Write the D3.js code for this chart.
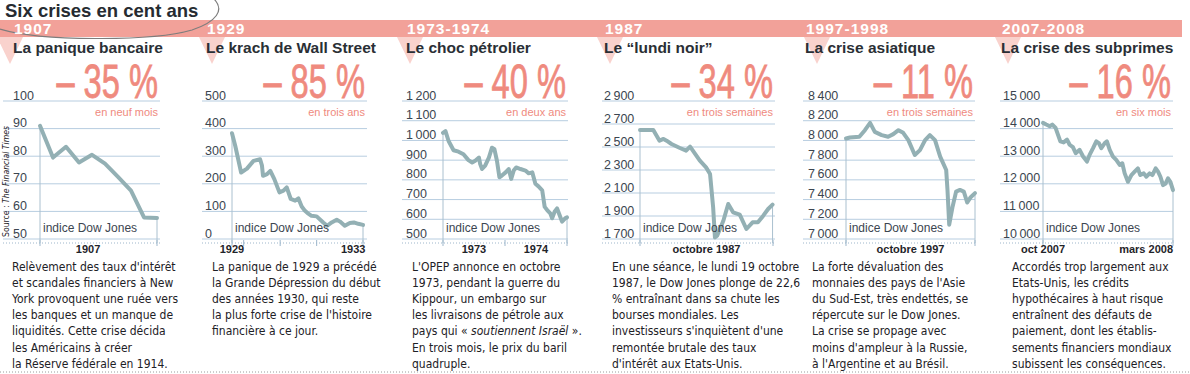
<!DOCTYPE html>
<html>
<head>
<meta charset="utf-8">
<script src="https://cdn.jsdelivr.net/npm/d3@7"></script>
<style>
  body { margin: 0; background: #fff; }
  svg text { font-family: "Liberation Sans", Arial, sans-serif; }
  .narrow { font-family: "DejaVu Sans Condensed", "Liberation Sans Narrow", "Arial Narrow", sans-serif; }
</style>
</head>
<body>
<svg id="chart" width="1190" height="374"></svg>
<script>
// ---- data ----
const titre = "Six crises en cent ans";
const annees = ["1907", "1929", "1973-1974", "1987", "1997-1998", "2007-2008"];
const noms = ["La panique bancaire", "Le krach de Wall Street", "Le choc pétrolier",
              "Le \u201clundi noir\u201d", "La crise asiatique", "La crise des subprimes"];
const baisses = ["\u2013 35 %", "\u2013 85 %", "\u2013 40 %", "\u2013 34 %", "\u2013 11 %", "\u2013 16 %"];
const durees = ["en neuf mois", "en trois ans", "en deux ans", "en trois semaines", "en trois semaines", "en six mois"];

// Dow Jones, 1907 (monthly, index of month)
const x1907 = [0, 1, 2, 3, 4, 5, 6, 7, 8, 9];
const dj1907 = [91, 79.5, 83.4, 77.7, 80.5, 77.3, 72.5, 67.5, 57.8, 57.6];

// Dow Jones, 1929-1933 (decimal years)
const x1929 = [1929.68, 1929.77, 1929.93, 1930.09, 1930.27, 1930.45, 1930.50, 1930.53, 1930.64, 1930.73,
               1930.84, 1930.98, 1931.09, 1931.18, 1931.29, 1931.41, 1931.50, 1931.59, 1931.68, 1931.75,
               1931.86, 1932.00, 1932.18, 1932.29, 1932.41, 1932.55, 1932.64, 1932.77, 1932.91, 1933.02,
               1933.14, 1933.27];
const dj1929 = [383, 337, 241, 255, 283, 289, 267, 229, 235, 247,
                217, 169, 175, 187, 145, 139, 147, 118, 102, 94,
                84, 82, 60, 48, 60, 70, 63, 48, 58, 60,
                55, 51];

// Dow Jones, 1973-1974 (decimal years)
const x1973 = [1973.00, 1973.04, 1973.09, 1973.17, 1973.25, 1973.33, 1973.41, 1973.47, 1973.52, 1973.58,
               1973.60, 1973.63, 1973.68, 1973.74, 1973.79, 1973.83, 1973.87, 1973.91, 1973.95, 1974.01,
               1974.06, 1974.10, 1974.14, 1974.18, 1974.25, 1974.33, 1974.38, 1974.44, 1974.49, 1974.54,
               1974.60, 1974.64, 1974.68, 1974.73, 1974.76, 1974.80, 1974.84, 1974.88, 1974.92, 1974.97,
               1975.00];
const dj1973 = [1038, 1047, 997, 950, 943, 930, 900, 888, 897, 913,
                880, 855, 872, 913, 963, 955, 897, 813, 822, 838,
                855, 805, 847, 863, 855, 847, 833, 838, 780, 767,
                747, 663, 647, 630, 605, 638, 655, 622, 588, 605,
                610];

// Dow Jones, octobre 1987 (day of month)
const x1987 = [1, 2.1, 4, 5.4, 6.3, 7, 8.1, 10, 11.4, 12.3, 13.2, 14.5, 15.9, 16.8,
               17.5, 17.9, 18.4, 19.8, 20.9, 22, 23.5, 25, 26.4, 27.6, 28.8, 29.9, 30.9];
const dj1987 = [2648, 2648, 2648, 2555, 2570, 2555, 2526, 2491, 2468, 2503, 2454, 2381, 2323, 2265,
                1975, 1714, 1729, 1859, 2004, 1932, 1912, 1787, 1845, 1845, 1903, 1961, 1999];

// Dow Jones, octobre 1997 (day of month)
const x1997 = [1, 1.9, 4.1, 5.4, 6.6, 7.7, 9.3, 10.8, 12, 13.2, 14.3, 15.5, 17, 18.2,
               19.4, 20.5, 21.7, 22.9, 24.3, 24.6, 25, 25.8, 26.6, 27.5, 28.4, 29.2, 30, 31];
const dj1997 = [8020, 8030, 8037, 8104, 8178, 8087, 8054, 8037, 8064, 8104, 8077, 8003, 7852, 7902,
                8003, 8054, 8003, 7835, 7700, 7498, 7145, 7330, 7481, 7498, 7481, 7370, 7424, 7465];

// Dow Jones, oct 2007 - mars 2008 (months since 1 oct 2007)
const x2007 = [0, 0.15, 0.31, 0.43, 0.58, 0.69, 0.8, 0.95, 1.11, 1.23, 1.38, 1.51, 1.69, 1.85, 2.03,
               2.15, 2.31, 2.46, 2.58, 2.69, 2.85, 2.95, 3.08, 3.23, 3.38, 3.54, 3.66, 3.77, 3.92, 4.08,
               4.23, 4.38, 4.49, 4.65, 4.77, 4.92, 5.05, 5.2, 5.31, 5.42, 5.54, 5.66, 5.77, 5.88, 6];
const dj2007 = [14207, 14146, 14085, 14146, 14024, 13780, 13537, 13500, 13598, 13415, 13329, 13110, 13232, 12988, 12805,
                13049, 13293, 13537, 13476, 13293, 13476, 13537, 13232, 12988, 12866, 12683, 12744, 12378, 12073, 12317,
                12439, 12561, 12317, 12378, 12256, 12378, 12317, 12561, 12439, 12256, 11951, 12012, 12195, 12073, 11768];

// y tick values
const yt1907 = [50, 60, 70, 80, 90, 100];
const yt1929 = [0, 100, 200, 300, 400, 500];
const yt1973 = [500, 600, 700, 800, 900, 1000, 1100, 1200];
const yt1987 = [1700, 1900, 2100, 2300, 2500, 2700, 2900];
const yt1997 = [7000, 7200, 7400, 7600, 7800, 8000, 8200, 8400];
const yt2007 = [10000, 11000, 12000, 13000, 14000, 15000];

// x domains, tick marks and tick labels
const xd = [[0, 9], [1929.68, 1933.27], [1973, 1975], [1, 31], [1, 31], [0, 6]];
const xTicks = [[0, 9], [1929.68, 1930, 1931, 1932, 1933.27], [1973, 1974, 1975], [1, 31], [1, 31], [0, 6]];
const xLabVal = [[3.7], [1929.68, 1933], [1973.5, 1974.5], [16], [16], [0, 6]];
const xLabTxt = [["1907"], ["1929", "1933"], ["1973", "1974"], ["octobre 1987"], ["octobre 1997"], ["oct 2007", "mars 2008"]];

const textes = [
  ["Relèvement des taux d'intérêt", "et scandales financiers à New", "York provoquent une ruée vers",
   "les banques et un manque de", "liquidités. Cette crise décida", "les Américains à créer", "la Réserve fédérale en 1914."],
  ["La panique de 1929 a précédé", "la Grande Dépression du début", "des années 1930, qui reste",
   "la plus forte crise de l'histoire", "financière à ce jour."],
  ["L'OPEP annonce en octobre", "1973, pendant la guerre du", "Kippour, un embargo sur",
   "les livraisons de pétrole aux", "pays qui «\u00a0|soutiennent Israël|\u00a0».", "En trois mois, le prix du baril", "quadruple."],
  ["En une séance, le lundi 19 octobre", "1987, le Dow Jones plonge de 22,6", "% entraînant dans sa chute les",
   "bourses mondiales. Les", "investisseurs s'inquiètent d'une", "remontée brutale des taux", "d'intérêt aux Etats-Unis."],
  ["La forte dévaluation des", "monnaies des pays de l'Asie", "du Sud-Est, très endettés, se",
   "répercute sur le Dow Jones.", "La crise se propage avec", "moins d'ampleur à la Russie,", "à l'Argentine et au Brésil."],
  ["Accordés trop largement aux", "Etats-Unis, les crédits", "hypothécaires à haut risque",
   "entraînent des défauts de", "paiement, dont les établis-", "sements financiers mondiaux", "subissent les conséquences."]
];

const series = [[x1907, dj1907], [x1929, dj1929], [x1973, dj1973], [x1987, dj1987], [x1997, dj1997], [x2007, dj2007]];
const yTicks = [yt1907, yt1929, yt1973, yt1987, yt1997, yt2007];

// ---- layout (pixels) ----
const layout = [
  {hx: 14,   tri: 10,   gx0: 3,    gx1: 160,  lx: 13,   px0: 40,   px1: 157,  tx: 12},
  {hx: 207,  tri: 212,  gx0: 202,  gx1: 367,  lx: 205,  px0: 232,  px1: 363,  tx: 212},
  {hx: 407,  tri: 410,  gx0: 402,  gx1: 568,  lx: 406,  px0: 443,  px1: 567,  tx: 412},
  {hx: 605,  tri: 610,  gx0: 602,  gx1: 775,  lx: 604,  px0: 640,  px1: 773,  tx: 612},
  {hx: 806,  tri: 817,  gx0: 803,  gx1: 975,  lx: 808,  px0: 846,  px1: 975,  tx: 812},
  {hx: 1002, tri: 1008, gx0: 1000, gx1: 1173, lx: 1003, px0: 1043, px1: 1173, tx: 1012}
];
const yTop = 101, yBot = 239, axisY = 243;

const rouge = "#f2a199", rose = "#f9d2cd", saumon = "#ef8a7e";
const grille = "#b7cde0", courbe = "#93b0b4", encre = "#3b4550";

const fr = d3.formatLocale({decimal: ",", thousands: "\u2009", grouping: [3], currency: ["", " €"]});
const fmt = fr.format(",d");

const svg = d3.select("#chart");

// header band
svg.append("rect").attr("x", 0).attr("y", 20).attr("width", 1182).attr("height", 17).attr("fill", rouge);

layout.forEach((L, i) => {
  svg.append("path")
    .attr("d", `M${L.tri - 13},37 L${L.tri + 13},37 L${L.tri},64 Z`)
    .attr("fill", rose);
});

svg.append("text").attr("x", 5).attr("y", 17)
  .attr("font-size", 18.5).attr("font-weight", "bold").attr("fill", "#262b31")
  .text(titre);

// pencil ellipse around the title
svg.append("path")
  .attr("d", "M0,29 C40,41 150,42 192,30 C216,22 226,10 213,-2")
  .attr("fill", "none").attr("stroke", "#7d7d7d").attr("stroke-width", 1.2);

svg.selectAll(".annee").data(annees).join("text")
  .attr("class", "annee")
  .attr("x", (d, i) => layout[i].hx).attr("y", 34)
  .attr("font-size", 15.5).attr("font-weight", "bold").attr("fill", "#fff")
  .attr("letter-spacing", 1)
  .text(d => d);

svg.selectAll(".nom").data(noms).join("text")
  .attr("class", "nom")
  .attr("x", (d, i) => layout[i].hx - 1).attr("y", 53)
  .attr("font-size", 15.5).attr("font-weight", "bold").attr("fill", "#2a2f35")
  .text(d => d);

// panels
series.forEach(([xs, ys], i) => {
  const L = layout[i];
  const g = svg.append("g");
  const ticks = yTicks[i];
  const y = d3.scaleLinear().domain(d3.extent(ticks)).range([yBot, yTop]);
  const x = d3.scaleLinear().domain(xd[i]).range([L.px0, L.px1]);

  g.selectAll(".grid").data(ticks).join("line")
    .attr("x1", L.gx0).attr("x2", L.gx1)
    .attr("y1", d => y(d)).attr("y2", d => y(d))
    .attr("stroke", grille).attr("stroke-width", 1);

  g.selectAll(".ylab").data(ticks).join("text")
    .attr("x", L.lx).attr("y", d => y(d) - 1.5)
    .attr("font-size", 12.5).attr("fill", encre)
    .text(d => fmt(d));

  // dotted baseline and ticks
  g.append("line").attr("x1", L.gx0).attr("x2", L.gx1).attr("y1", axisY).attr("y2", axisY)
    .attr("stroke", "#9db6cb").attr("stroke-dasharray", "1,2");
  g.selectAll(".xt").data(xTicks[i]).join("line")
    .attr("x1", d => x(d)).attr("x2", d => x(d)).attr("y1", axisY - 3).attr("y2", axisY + 3)
    .attr("stroke", "#9db6cb");

  g.selectAll(".xlab").data(xLabVal[i]).join("text")
    .attr("x", d => x(d)).attr("y", 253)
    .attr("text-anchor", (d, k) => (i === 5 && k === 1) ? "end" : "middle")
    .attr("font-size", 11).attr("font-weight", "bold").attr("fill", "#1f2429")
    .text((d, k) => xLabTxt[i][k]);

  const pts = xs.map((v, k) => [v, ys[k]]);
  // thin outline from the ends of the curve down to the axis
  g.append("line").attr("x1", x(xs[0])).attr("x2", x(xs[0]))
    .attr("y1", y(ys[0])).attr("y2", axisY).attr("stroke", "#aac0cf").attr("stroke-width", 1);
  g.append("line").attr("x1", x(xs[xs.length - 1])).attr("x2", x(xs[xs.length - 1]))
    .attr("y1", y(ys[ys.length - 1])).attr("y2", axisY).attr("stroke", "#aac0cf").attr("stroke-width", 1);

  g.append("path")
    .datum(pts)
    .attr("d", d3.line().x(d => x(d[0])).y(d => y(d[1])))
    .attr("fill", "none").attr("stroke", courbe).attr("stroke-width", 4)
    .attr("stroke-linejoin", "round").attr("stroke-linecap", "round");

  g.append("text").attr("x", x(xs[0]) + 3).attr("y", 232)
    .attr("font-size", 12).attr("fill", encre)
    .text("indice Dow Jones");

  // big percentage
  g.append("text")
    .attr("transform", `translate(${L.gx1 - 2},98) scale(0.68,1)`)
    .attr("text-anchor", "end").attr("font-size", 48).attr("fill", saumon)
    .attr("stroke", saumon).attr("stroke-width", 0.8)
    .text(baisses[i]);
  g.append("text")
    .attr("x", L.gx1 - 2).attr("y", 116)
    .attr("text-anchor", "end").attr("font-size", 11).attr("fill", saumon)
    .text(durees[i]);

  // description
  const t = g.append("text").attr("class", "narrow").attr("font-size", 12).attr("fill", "#1d2126");
  textes[i].forEach((line, k) => {
    const parts = line.split("|");
    const ts = t.append("tspan").attr("x", L.tx).attr("y", 271 + k * 16.1);
    if (parts.length === 1) { ts.text(line); }
    else {
      ts.text(parts[0]);
      t.append("tspan").attr("font-style", "italic").text(parts[1]);
      t.append("tspan").text(parts[2]);
    }
  });
});

// source, vertical
const src = svg.append("text").attr("class", "narrow")
  .attr("transform", "translate(9,237) rotate(-90)")
  .attr("font-size", 8.6).attr("fill", "#1f2429");
src.append("tspan").text("Source : ");
src.append("tspan").attr("font-style", "italic").text("The Financial Times");

// bottom dotted rule
svg.append("line").attr("x1", 0).attr("x2", 1190).attr("y1", 372).attr("y2", 372)
  .attr("stroke", "#9a9a9a").attr("stroke-dasharray", "1,2");
</script>
</body>
</html>
